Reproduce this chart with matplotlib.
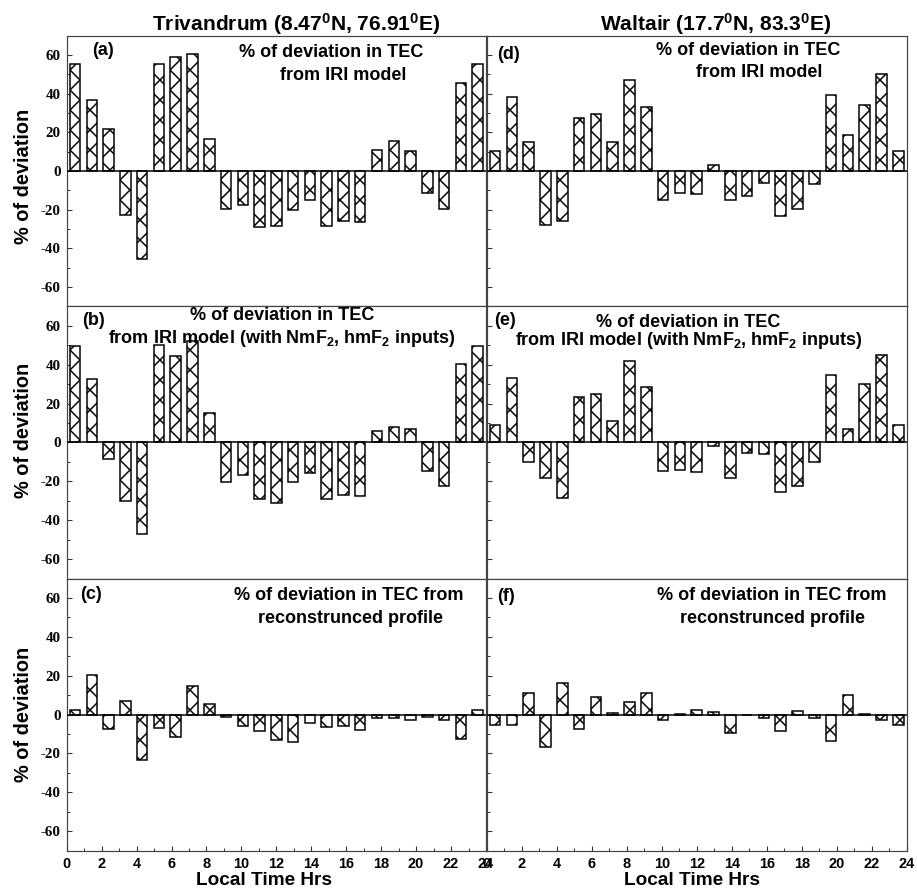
import numpy as np
import matplotlib
matplotlib.use('Agg')
from matplotlib import pyplot as plt
from matplotlib.ticker import MultipleLocator

# % deviation of TEC, 25 hourly values each
hours = np.arange(25)

trv_iri = [55.3, 36.7, 21.9, -22.6, -45.5, 55.3, 59.0, 60.5, 16.4, -19.8, -17.8, -29.0, -28.6,
           -20.3, -15.2, -28.6, -26.0, -26.4, 11.0, 15.2, 10.5, -11.4, -19.7, 45.2, 55.3]
trv_iri_nmf2 = [49.5, 32.4, -8.4, -30.0, -47.2, 50.2, 44.3, 51.9, 15.2, -20.5, -16.9, -29.3, -31.0,
                -20.5, -15.5, -29.3, -27.2, -27.8, 5.7, 7.9, 7.1, -14.7, -22.4, 40.2, 49.5]
trv_recon = [2.4, 20.5, -7.2, 6.8, -23.2, -6.8, -11.3, 14.7, 5.5, -1.0, -6.0, -8.5, -13.0,
             -14.0, -4.1, -6.5, -6.0, -8.0, -1.9, -1.7, -2.7, -1.0, -2.7, -12.3, 2.4]

wal_iri = [10.3, 38.3, 15.0, -27.8, -25.7, 27.2, 29.3, 14.7, 46.9, 32.9, -15.0, -11.6, -12.1,
           3.1, -15.3, -12.9, -6.0, -23.3, -19.7, -6.7, 39.1, 18.4, 34.3, 50.3, 10.3]
wal_iri_nmf2 = [9.1, 32.9, -10.2, -18.4, -28.8, 23.4, 24.8, 10.9, 41.9, 28.4, -14.5, -14.0, -15.3,
                -2.1, -18.1, -5.3, -5.9, -25.5, -22.2, -10.0, 34.8, 6.7, 30.2, 45.0, 9.1]
wal_recon = [-5.6, -5.6, 11.1, -16.9, 16.2, -7.3, 8.9, 0.9, 6.3, 11.1, -2.9, 0.3, 2.6,
             1.5, -9.6, -0.3, -1.5, -8.5, 1.7, -1.7, -13.5, 9.9, 0.2, -2.9, -5.6]

titles = [r'Trivandrum (8.47$^{0}$N, 76.91$^{0}$E)', r'Waltair (17.7$^{0}$N, 83.3$^{0}$E)']
panel_ids = [['(a)', '(b)', '(c)'], ['(d)', '(e)', '(f)']]

DPI = 120
W, H = 917, 889

plt.rcParams['font.family'] = ['Liberation Sans', 'DejaVu Sans']
plt.rcParams['font.weight'] = 'bold'
plt.rcParams['mathtext.fontset'] = 'custom'
plt.rcParams['mathtext.rm'] = 'Liberation Sans:bold'
plt.rcParams['mathtext.it'] = 'Liberation Sans:bold'
plt.rcParams['mathtext.bf'] = 'Liberation Sans:bold'
plt.rcParams['hatch.linewidth'] = 0.9
plt.rcParams['axes.unicode_minus'] = False


def fx(px):
	return px / W


def fy(py):
	return 1 - py / H


def pt(px):
	return px * 72.0 / DPI


fig = plt.figure(figsize=(W / DPI, H / DPI), dpi=DPI)

col_x = [(66.7, 486.0), (486.7, 906.7)]
row_y = [(35.5, 306.3), (306.3, 578.5), (578.5, 850.7)]

data = [[trv_iri, trv_iri_nmf2, trv_recon], [wal_iri, wal_iri_nmf2, wal_recon]]

xpos = (hours + 0.5) * 24.0 / 25

for c in range(2):
	for r in range(3):
		x0, x1 = col_x[c]
		y0, y1 = row_y[r]
		ax = fig.add_axes([fx(x0), fy(y1), fx(x1) - fx(x0), fy(y0) - fy(y1)])
		ax.bar(xpos, data[c][r], width=0.6, facecolor='white', edgecolor='black',
			   linewidth=pt(1.5), hatch='xx', clip_on=False, zorder=3)
		ax.axhline(0, color='black', lw=pt(1.5), zorder=4)
		ax.set_xlim(0, 24)
		ax.set_ylim(-70, 70)
		for s in ax.spines.values():
			s.set_linewidth(pt(1.2))
			s.set_color('#444444')
		ax.yaxis.set_major_locator(MultipleLocator(20))
		ax.yaxis.set_minor_locator(MultipleLocator(10))
		ax.xaxis.set_major_locator(MultipleLocator(2))
		ax.xaxis.set_minor_locator(MultipleLocator(1))
		ax.tick_params(which='both', direction='in', top=False, right=False, color='#333333')
		ax.tick_params(which='major', length=pt(5), width=pt(1.1))
		ax.tick_params(which='minor', length=pt(3), width=pt(1.0))
		ax.tick_params(axis='x', pad=pt(6), labelsize=pt(14.5))
		ax.tick_params(axis='y', pad=pt(6), labelsize=pt(15))
		for lab in ax.get_yticklabels():
			lab.set_fontfamily('Liberation Serif')
			lab.set_fontweight('bold')
		if c == 1:
			ax.tick_params(axis='y', labelleft=False)
		if r < 2:
			ax.tick_params(axis='x', which='both', bottom=False, labelbottom=False)

# column titles
fig.text(fx(296), fy(31), titles[0], ha='center', va='baseline', fontsize=pt(21))
fig.text(fx(716), fy(31), titles[1], ha='center', va='baseline', fontsize=pt(21))

# panel labels
lab_pos = [[(91.7, 55), (81.7, 325), (80, 599)], [(497, 59), (494, 325), (497, 601)]]
for c in range(2):
	for r in range(3):
		px, py = lab_pos[c][r]
		fig.text(fx(px), fy(py), panel_ids[c][r], ha='left', va='baseline', fontsize=pt(18))

# panel annotations
ann = [
	('% of deviation in TEC', 331.5, 57), ('from IRI model', 343.5, 80),
	('% of deviation in TEC', 748, 55), ('from IRI model', 759, 77),
	('% of deviation in TEC', 282.5, 320),
	(r'from IRI model (with NmF$_2$, hmF$_2$ inputs)', 281.7, 343),
	('% of deviation in TEC', 688, 327),
	(r'from IRI model (with NmF$_2$, hmF$_2$ inputs)', 689, 345),
	('% of deviation in TEC from', 349, 600), ('reconstrunced profile', 350, 622.7),
	('% of deviation in TEC from', 771.7, 600), ('reconstrunced profile', 773, 622.7),
]
for txt, px, py in ann:
	fig.text(fx(px), fy(py), txt, ha='center', va='baseline', fontsize=pt(18))

# axis labels
for py in [176, 430, 714]:
	fig.text(fx(23.5), fy(py), '% of deviation', rotation=90, ha='center', va='center',
			 fontsize=pt(20))
for px in [264.5, 691.7]:
	fig.text(fx(px), fy(885), 'Local Time Hrs', ha='center', va='baseline', fontsize=pt(19))

fig.savefig('out.png', dpi=DPI)
